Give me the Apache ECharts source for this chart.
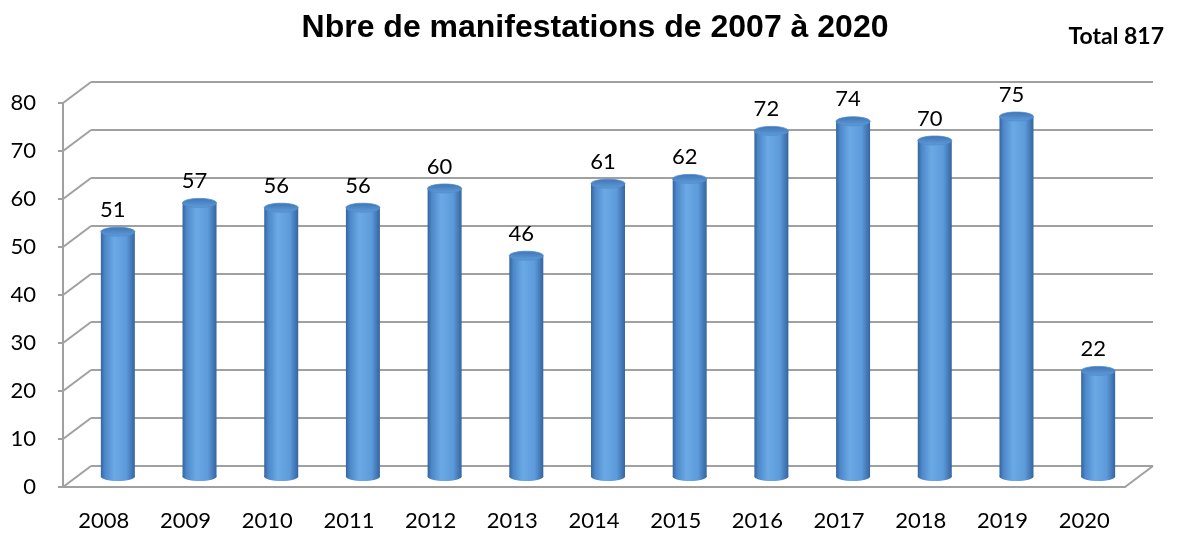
<!DOCTYPE html>
<html>
<head>
<meta charset="utf-8">
<script src="https://cdn.jsdelivr.net/npm/echarts@6/dist/echarts.min.js"></script>
<style>
  html, body { margin: 0; padding: 0; background: #fff; }
  #chart { width: 1177px; height: 536px; }
</style>
</head>
<body>
<div id="chart"></div>
<script>
// données
const years = ['2008', '2009', '2010', '2011', '2012', '2013', '2014', '2015', '2016', '2017', '2018', '2019', '2020'];
const counts = [51, 57, 56, 56, 60, 46, 61, 62, 72, 74, 70, 75, 22];
const yTicks = [0, 10, 20, 30, 40, 50, 60, 70, 80];

// décalage "3D" entre le plan avant et le mur du fond
const DX = 28;
const DY = -21;

const chart = echarts.init(document.getElementById('chart'));

const bodyGradient = new echarts.graphic.LinearGradient(0, 0, 1, 0, [
  { offset: 0, color: '#3564a0' },
  { offset: 0.12, color: '#4d88c9' },
  { offset: 0.4, color: '#6aa9e6' },
  { offset: 0.75, color: '#5d9ada' },
  { offset: 1, color: '#3465a0' },
]);
const topGradient = new echarts.graphic.LinearGradient(0, 0, 0, 1, [
  { offset: 0, color: '#3f74b4' },
  { offset: 1, color: '#609dda' },
]);

const option = {
  backgroundColor: '#fff',
  animation: false,
  title: [{
    text: 'Nbre de manifestations de 2007 à 2020',
    left: 590,
    top: 7,
    textAlign: 'center',
    textStyle: { fontFamily: 'Liberation Sans', fontWeight: 'bold', fontSize: 32, color: '#000' },
  }, {
    text: 'Total 817',
    right: 8,
    top: 20,
    textStyle: { fontFamily: 'Lato', fontWeight: 'bold', fontSize: 23, color: '#000' },
  }],
  grid: [
    { left: 63, top: 103, width: 1062, height: 384 }, // plan avant
    { left: 63 + DX, top: 103 + DY, width: 1062, height: 384 }, // mur du fond
  ],
  xAxis: [{
    gridIndex: 0,
    type: 'category',
    data: years,
    axisLine: { lineStyle: { color: '#a0a0a0', width: 2 } },
    axisTick: { length: 8, lineStyle: { color: '#a0a0a0', width: 2 } },
    axisLabel: { margin: 23, fontFamily: 'Lato', fontSize: 22, color: '#000' },
  }, {
    gridIndex: 1,
    type: 'category',
    data: years,
    show: false,
  }],
  yAxis: [{
    gridIndex: 0,
    type: 'value',
    min: 0,
    max: 80,
    interval: 10,
    axisLine: { show: true, lineStyle: { color: '#a0a0a0', width: 2 } },
    axisTick: { show: true, length: 5, lineStyle: { color: '#a0a0a0', width: 2 } },
    axisLabel: { margin: 27, fontFamily: 'Lato', fontSize: 22, color: '#000' },
    splitLine: { show: false },
  }, {
    gridIndex: 1,
    type: 'value',
    min: 0,
    max: 80,
    interval: 10,
    axisLine: { show: false },
    axisTick: { show: false },
    axisLabel: { show: false },
    splitLine: { show: true, lineStyle: { color: '#a0a0a0', width: 2 } },
  }],
  series: [{
    // diagonales reliant l'axe avant au mur du fond
    type: 'custom',
    xAxisIndex: 0,
    yAxisIndex: 0,
    data: yTicks.map(v => [0, v]),
    silent: true,
    z: 1,
    renderItem(params, api) {
      const p = api.coord([api.value(0), api.value(1)]);
      const band = api.size([1, 0])[0];
      const x0 = p[0] - band / 2;
      return {
        type: 'line',
        shape: { x1: x0, y1: p[1], x2: x0 + DX, y2: p[1] + DY },
        style: { stroke: '#a0a0a0', lineWidth: 2 },
      };
    },
  }, {
    // bord droit du plancher
    type: 'custom',
    xAxisIndex: 0,
    yAxisIndex: 0,
    data: [[years.length - 1, 0]],
    silent: true,
    z: 1,
    renderItem(params, api) {
      const p = api.coord([api.value(0), api.value(1)]);
      const band = api.size([1, 0])[0];
      const x0 = p[0] + band / 2;
      return {
        type: 'line',
        shape: { x1: x0, y1: p[1], x2: x0 + DX, y2: p[1] + DY },
        style: { stroke: '#a0a0a0', lineWidth: 2 },
      };
    },
  }, {
    // cylindres
    type: 'custom',
    xAxisIndex: 0,
    yAxisIndex: 0,
    data: counts.map((v, i) => [i, v]),
    z: 3,
    renderItem(params, api) {
      const i = api.value(0);
      const v = api.value(1);
      const top = api.coord([i, v]);
      const base = api.coord([i, 0]);
      const cx = top[0] + DX / 2;
      const yTop = top[1] + DY / 2;
      const yBase = base[1] + DY / 2;
      const w = 34;
      const ry = 4.5;
      return {
        type: 'group',
        children: [{
          type: 'ellipse',
          shape: { cx: cx, cy: yBase, rx: w / 2, ry: ry },
          style: { fill: bodyGradient },
        }, {
          type: 'rect',
          shape: { x: cx - w / 2, y: yTop, width: w, height: yBase - yTop },
          style: { fill: bodyGradient },
        }, {
          type: 'ellipse',
          shape: { cx: cx, cy: yTop, rx: w / 2, ry: ry },
          style: { fill: topGradient, stroke: '#4f8ccd', lineWidth: 0.8 },
        }, {
          type: 'text',
          x: cx - 5,
          y: yTop - 22,
          style: {
            text: String(v),
            fontFamily: 'Lato',
            fontSize: 22,
            fill: '#000',
            align: 'center',
            verticalAlign: 'middle',
          },
        }],
      };
    },
  }],
};

chart.setOption(option);
window.addEventListener('resize', () => {
  chart.resize();
});
</script>
</body>
</html>
